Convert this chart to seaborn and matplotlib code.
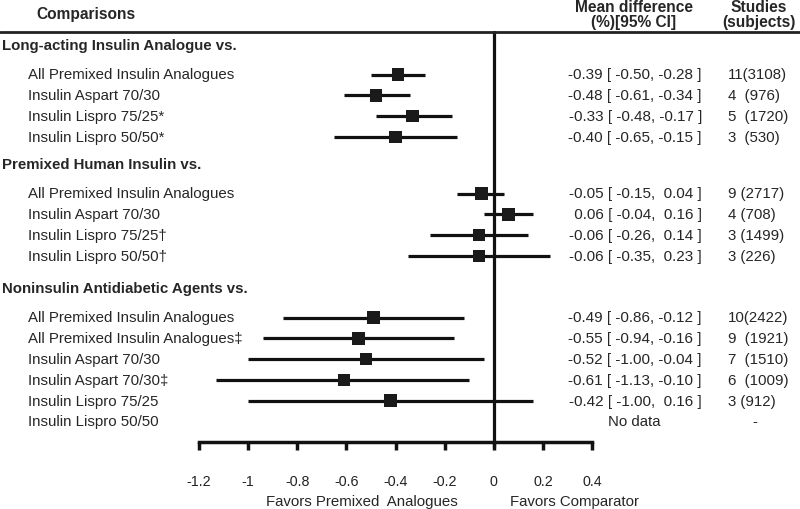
import numpy as np
import pandas as pd
import matplotlib
matplotlib.use("Agg")
import matplotlib.pyplot as plt
import matplotlib.transforms as mtrans
from matplotlib.lines import Line2D
import seaborn as sns

# ---- data ----
group_titles = ["Long-acting Insulin Analogue vs.",
                "Premixed Human Insulin vs.",
                "Noninsulin Antidiabetic Agents vs."]
comparison = ["All Premixed Insulin Analogues", "Insulin Aspart 70/30",
              "Insulin Lispro 75/25*", "Insulin Lispro 50/50*",
              "All Premixed Insulin Analogues", "Insulin Aspart 70/30",
              "Insulin Lispro 75/25\u2020", "Insulin Lispro 50/50\u2020",
              "All Premixed Insulin Analogues", "All Premixed Insulin Analogues\u2021",
              "Insulin Aspart 70/30", "Insulin Aspart 70/30\u2021",
              "Insulin Lispro 75/25", "Insulin Lispro 50/50"]
group = [0, 0, 0, 0, 1, 1, 1, 1, 2, 2, 2, 2, 2, 2]
mean_diff = [-0.39, -0.48, -0.33, -0.40, -0.05, 0.06, -0.06, -0.06,
             -0.49, -0.55, -0.52, -0.61, -0.42, np.nan]
ci_low = [-0.50, -0.61, -0.48, -0.65, -0.15, -0.04, -0.26, -0.35,
          -0.86, -0.94, -1.00, -1.13, -1.00, np.nan]
ci_high = [-0.28, -0.34, -0.17, -0.15, 0.04, 0.16, 0.14, 0.23,
           -0.12, -0.16, -0.04, -0.10, 0.16, np.nan]
studies = ["11(3108)", "4  (976)", "5  (1720)", "3  (530)",
           "9 (2717)", "4 (708)", "3 (1499)", "3 (226)",
           "10(2422)", "9  (1921)", "7  (1510)", "6  (1009)", "3 (912)", "-"]
x_ticks = [-1.2, -1.0, -0.8, -0.6, -0.4, -0.2, 0.0, 0.2, 0.4]

# ---- layout (pixel rows, figure is 800x510) ----
W, H = 800, 510
title_y = [46, 165, 289]
row_gap = 20.8
ypos = []
for g in range(3):
    idx = [i for i in range(len(group)) if group[i] == g]
    for k, i in enumerate(idx):
        ypos.append(title_y[g] + 29.5 + k * row_gap)

df = pd.DataFrame({"comparison": comparison, "mean": mean_diff,
                   "low": ci_low, "high": ci_high, "studies": studies, "y": ypos})

sns.set_theme(style="white")
plt.rcParams["font.family"] = ["Liberation Sans", "DejaVu Sans"]
plt.rcParams["axes.unicode_minus"] = False

fig = plt.figure(figsize=(8, 5.1), dpi=100)
top_px, axis_px = 33, 443
left_px, right_px = 199, 592
ax = fig.add_axes([left_px / W, 1 - axis_px / H,
                   (right_px - left_px) / W, (axis_px - top_px) / H])
ax.set_xlim(-1.2, 0.4)
ax.set_ylim(axis_px, top_px)
ax.set_facecolor("none")

ok = df.dropna()
ax.hlines(ok["y"], ok["low"], ok["high"], color="#111111", lw=2.3, zorder=2)
sns.scatterplot(data=ok, x="mean", y="y", marker="s", s=80, color="#1a1a1a",
                edgecolor="none", ax=ax, zorder=3, legend=False)
ax.plot([0, 0], [top_px, axis_px + 5], color="#111111", lw=2.3,
        clip_on=False, zorder=1)

for sp in ["left", "top", "right"]:
    ax.spines[sp].set_visible(False)
ax.spines["bottom"].set_linewidth(2.5)
ax.spines["bottom"].set_color("#111111")
ax.set_yticks([])
ax.set_xticks(x_ticks)
ax.set_xticklabels([f"{v:g}" for v in x_ticks], fontsize=10.3, color="#222222")
ax.tick_params(axis="x", direction="out", length=6, width=2.5, color="#111111",
               pad=17, bottom=True)
ax.set_xlabel("")
ax.set_ylabel("")

# header line across the whole figure
fig.add_artist(Line2D([0, 1], [1 - top_px / H] * 2, color="#222222", lw=2))

tr = mtrans.blended_transform_factory(fig.transFigure, ax.transData)
fs = 10.8
hfs = 11.2
fig.text(36 / W, 1 - 15 / H, "Comparisons", fontsize=hfs, fontweight="bold",
         va="center", ha="left")
fig.text(634 / W, 1 - 8 / H, "Mean difference", fontsize=hfs, fontweight="bold",
         va="center", ha="center")
fig.text(634 / W, 1 - 23 / H, "(%)[95% CI]", fontsize=hfs, fontweight="bold",
         va="center", ha="center")
fig.text(759 / W, 1 - 8 / H, "Studies", fontsize=hfs, fontweight="bold",
         va="center", ha="center")
fig.text(759 / W, 1 - 23 / H, "(subjects)", fontsize=hfs, fontweight="bold",
         va="center", ha="center")

for g, t in enumerate(group_titles):
    ax.text(2 / W, title_y[g], t, transform=tr, fontsize=fs, fontweight="bold",
            va="center", ha="left")

for _, r in df.iterrows():
    ax.text(28 / W, r["y"], r["comparison"], transform=tr, fontsize=fs,
            va="center", ha="left")
    if np.isnan(r["mean"]):
        ax.text(634 / W, r["y"], "No data", transform=tr, fontsize=fs,
                va="center", ha="center")
        ax.text(755 / W, r["y"], r["studies"], transform=tr, fontsize=fs,
                va="center", ha="center")
    else:
        ci = f"{r['mean']:5.2f} [ {r['low']:5.2f}, {r['high']:5.2f} ]"
        ax.text(702 / W, r["y"], ci, transform=tr, fontsize=11,
                va="center", ha="right")
        ax.text(728 / W, r["y"], r["studies"], transform=tr, fontsize=fs,
                va="center", ha="left")

fig.text(362 / W, 1 - 502 / H, "Favors Premixed  Analogues", fontsize=fs,
         va="center", ha="center")
fig.text(574 / W, 1 - 502 / H, "Favors Comparator", fontsize=fs,
         va="center", ha="center")

fig.savefig("out.png", dpi=100)
